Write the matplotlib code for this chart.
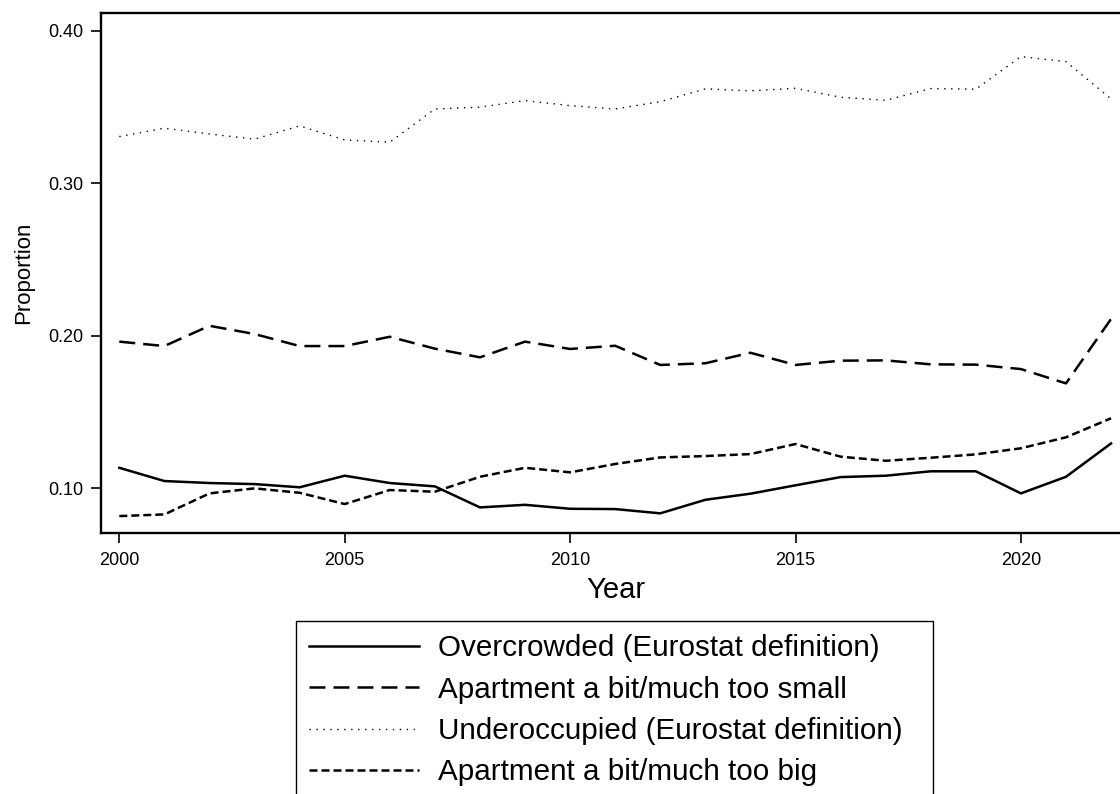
import matplotlib.pyplot as plt
from matplotlib.patches import Rectangle

plt.rcParams['font.family'] = ['Liberation Sans', 'DejaVu Sans']

# ---------- Data ----------
years = list(range(2000, 2023))

overcrowded = [0.1133, 0.1046, 0.1033, 0.1026, 0.1005, 0.1081, 0.1033, 0.1011,
               0.0873, 0.0890, 0.0864, 0.0862, 0.0834, 0.0923, 0.0963, 0.1018,
               0.1072, 0.1081, 0.1110, 0.1110, 0.0965, 0.1074, 0.1293]

too_small = [0.1961, 0.1932, 0.2065, 0.2011, 0.1932, 0.1932, 0.1993, 0.1915,
             0.1858, 0.1961, 0.1913, 0.1934, 0.1808, 0.1819, 0.1888, 0.1808,
             0.1836, 0.1838, 0.1812, 0.1810, 0.1781, 0.1687, 0.2110]

underoccupied = [0.3307, 0.3362, 0.3324, 0.3290, 0.3377, 0.3285, 0.3270, 0.3488,
                 0.3500, 0.3543, 0.3510, 0.3488, 0.3536, 0.3620, 0.3607, 0.3624,
                 0.3565, 0.3545, 0.3622, 0.3618, 0.3832, 0.3799, 0.3554]

too_big = [0.0816, 0.0827, 0.0965, 0.0998, 0.0969, 0.0895, 0.0987, 0.0976,
           0.1074, 0.1133, 0.1103, 0.1158, 0.1201, 0.1210, 0.1223, 0.1289,
           0.1206, 0.1179, 0.1199, 0.1221, 0.1261, 0.1333, 0.1458]

labels = ['Overcrowded (Eurostat definition)',
          'Apartment a bit/much too small',
          'Underoccupied (Eurostat definition)',
          'Apartment a bit/much too big']

xticks = [2000, 2005, 2010, 2015, 2020]
yticks = [0.10, 0.20, 0.30, 0.40]

# ---------- Figure ----------
W, H = 1120, 794
fig = plt.figure(figsize=(W / 100, H / 100), dpi=100)
# axes run slightly past the right edge, so the right spine is cut off
ax = fig.add_axes([101 / W, 1 - 533 / H, 1029 / W, 520 / H])

lw = 1.8
ax.plot(years, overcrowded, color='black', lw=lw, label=labels[0])
ax.plot(years, too_small, color='black', lw=lw, dashes=(6.4, 3.2), label=labels[1])
ax.plot(years, underoccupied, color='black', lw=1.0, dashes=(1.0, 4.0), label=labels[2])
ax.plot(years, too_big, color='black', lw=lw, dashes=(3.2, 1.6), label=labels[3])

ax.set_xlim(1999.594, 2022.42)
ax.set_ylim(0.0705, 0.4118)
ax.set_xticks(xticks)
ax.set_yticks(yticks)
ax.set_yticklabels([f'{v:.2f}' for v in yticks])

for side in ['left', 'bottom', 'top']:
    ax.spines[side].set_linewidth(1.7)
ax.spines['right'].set_visible(False)
ax.tick_params(axis='both', length=7.5, width=1.2, labelsize=13, pad=5)
ax.tick_params(axis='x', pad=6.5)

ax.set_xlabel('Year', fontsize=21, labelpad=5)
ax.set_ylabel('Proportion', fontsize=16, labelpad=10)

# ---------- Legend ----------
fs = 21.3
leg = fig.legend(loc='upper left', bbox_to_anchor=(296 / W, 1 - 621 / H),
                 fontsize=fs, handlelength=3.7, handletextpad=0.65,
                 labelspacing=0.45, borderpad=0.45, borderaxespad=0,
                 frameon=False)

# legend box, wider than the text and open past the bottom edge
fig.add_artist(Rectangle((296 / W, -0.05), (933 - 296) / W, 0.05 + 1 - 621 / H,
                         transform=fig.transFigure, fill=False,
                         edgecolor='black', lw=1.0))

fig.savefig('out.png', dpi=100)
